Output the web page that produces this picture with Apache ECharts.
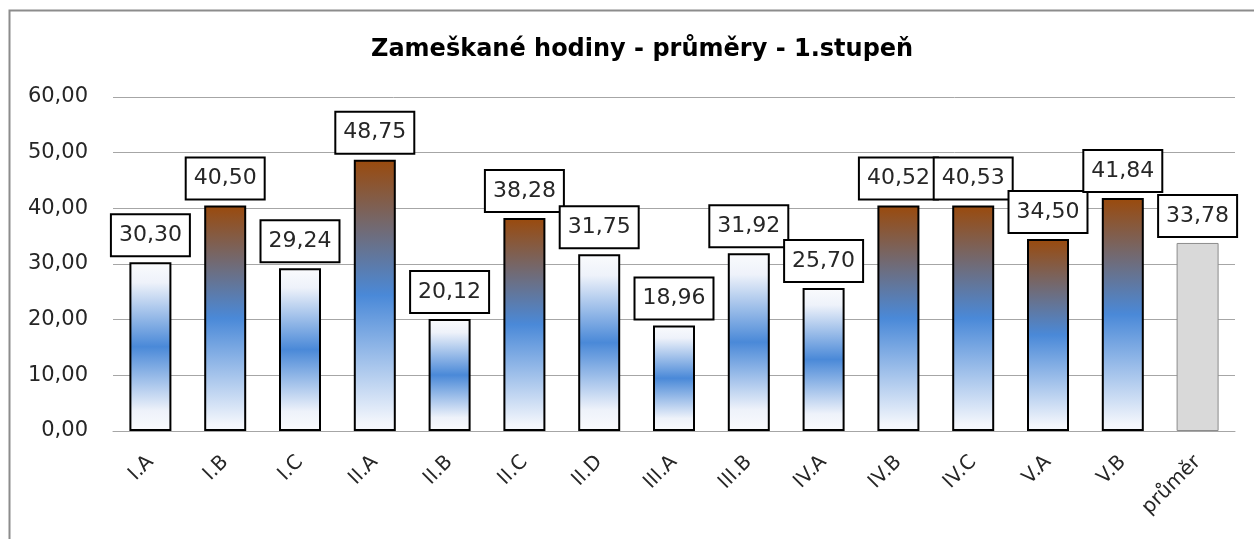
<!DOCTYPE html>
<html>
<head>
<meta charset="utf-8">
<script src="https://cdn.jsdelivr.net/npm/echarts@6/dist/echarts.min.js"></script>
<style>
  html, body { margin: 0; padding: 0; background: #fff; }
  #chart { width: 1254px; height: 539px; }
</style>
</head>
<body>
<div id="chart"></div>
<script>
"use strict";
var categories = ["I.A", "I.B", "I.C", "II.A", "II.B", "II.C", "II.D", "III.A", "III.B", "IV.A", "IV.B", "IV.C", "V.A", "V.B", "průměr"];
var values = [30.30, 40.50, 29.24, 48.75, 20.12, 38.28, 31.75, 18.96, 31.92, 25.70, 40.52, 40.53, 34.50, 41.84, 33.78];
var yTicks = [0, 10, 20, 30, 40, 50, 60];

var FONT = "'DejaVu Sans', sans-serif";

// above average: brown -> blue -> white, below: white -> blue -> white
var aboveFill = new echarts.graphic.LinearGradient(0, 0, 0, 1, [
    {offset: 0, color: "#9a4a0c"},
    {offset: 0.5, color: "#4a89d8"},
    {offset: 0.97, color: "#f3f6fc"},
    {offset: 1, color: "#f6f8fd"}
]);
var belowFill = new echarts.graphic.LinearGradient(0, 0, 0, 1, [
    {offset: 0, color: "#fafbfd"},
    {offset: 0.12, color: "#eef2fa"},
    {offset: 0.5, color: "#4a89d8"},
    {offset: 0.88, color: "#eef2fa"},
    {offset: 1, color: "#fafbfd"}
]);

var average = values[values.length - 1];
var barData = values.map(function (v, i) {
    if (i === values.length - 1) {
        return {value: v, itemStyle: {color: "#d9d9d9", borderColor: "#8c8c8c", borderWidth: 1}};
    }
    return {value: v, itemStyle: {color: v > average ? aboveFill : belowFill, borderColor: "#000", borderWidth: 2}};
});

var fmt = function (v) { return v.toFixed(2).replace(".", ","); };

var chart = echarts.init(document.getElementById("chart"));
chart.setOption({
    animation: false,
    backgroundColor: "#fff",
    title: {
        text: "Zameškané hodiny - průměry - 1.stupeň",
        left: 366,
        top: 33,
        textStyle: {fontFamily: FONT, fontSize: 24, fontWeight: "bold", color: "#000"}
    },
    graphic: [{
        type: "rect",
        shape: {x: 9.5, y: 10.5, width: 1300, height: 600},
        style: {fill: "none", stroke: "#8c8c8c", lineWidth: 2},
        silent: true
    }],
    grid: {left: 113, right: 19, top: 97, bottom: 108},
    xAxis: {
        type: "category",
        data: categories,
        axisLine: {lineStyle: {color: "#a6a6a6", width: 1}},
        axisTick: {show: false},
        axisLabel: {rotate: 45, fontFamily: FONT, fontSize: 20, color: "#262626", margin: 28, interval: 0}
    },
    yAxis: {
        type: "value",
        min: yTicks[0],
        max: yTicks[yTicks.length - 1],
        interval: 10,
        axisLine: {show: false},
        axisTick: {show: false},
        splitLine: {lineStyle: {color: "#a6a6a6", width: 1}},
        axisLabel: {
            fontFamily: FONT, fontSize: 21, color: "#262626", margin: 25,
            formatter: fmt
        }
    },
    series: [{
        type: "bar",
        data: barData,
        barWidth: 42,
        label: {
            show: true,
            position: "top",
            distance: 7,
            fontFamily: FONT,
            fontSize: 22,
            lineHeight: 26,
            color: "#262626",
            backgroundColor: "#fff",
            borderColor: "#000",
            borderWidth: 2,
            padding: [7, 7, 7, 7],
            formatter: function (p) { return fmt(p.value); }
        }
    }]
});
</script>
</body>
</html>
